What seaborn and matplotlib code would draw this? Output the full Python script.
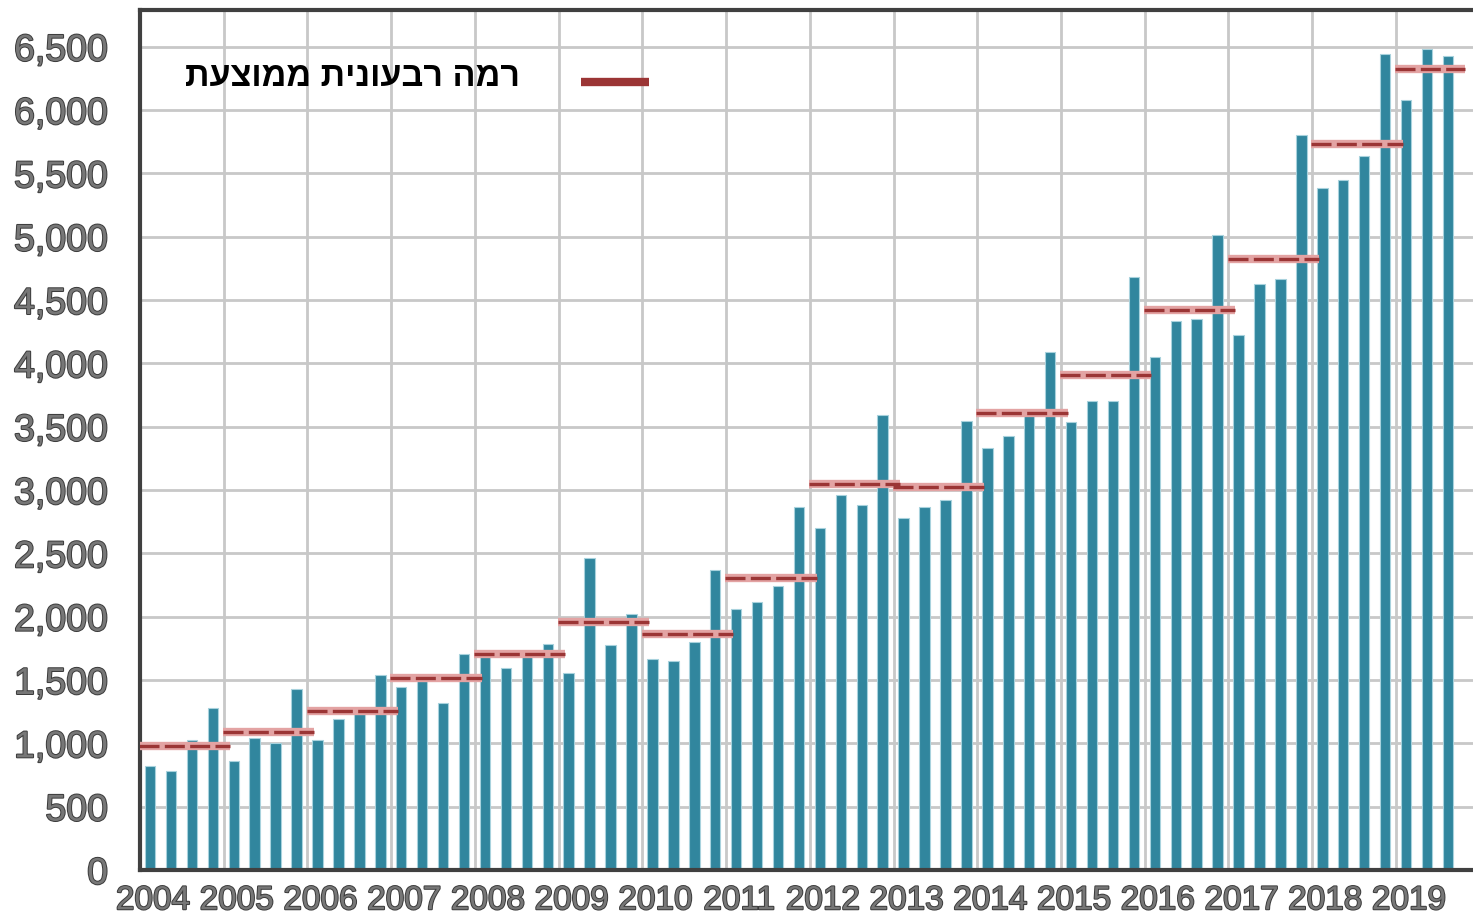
import numpy as np
import pandas as pd
import seaborn as sns
import matplotlib.pyplot as plt
import matplotlib.patheffects as pe
from matplotlib.transforms import ScaledTranslation

# quarterly values, 2004 Q1 .. 2019 Q3
years = list(range(2004, 2020))
quarterly = [
    820, 785, 1025, 1282,     # 2004
    858, 1043, 1006, 1430,    # 2005
    1024, 1190, 1232, 1540,   # 2006
    1448, 1495, 1319, 1709,   # 2007
    1690, 1595, 1720, 1782,   # 2008
    1556, 2462, 1780, 2019,   # 2009
    1669, 1651, 1798, 2369,   # 2010
    2059, 2114, 2241, 2867,   # 2011
    2701, 2959, 2885, 3595,   # 2012
    2778, 2867, 2922, 3545,   # 2013
    3329, 3423, 3593, 4090,   # 2014
    3535, 3702, 3702, 4685,   # 2015
    4050, 4333, 4348, 5015,   # 2016
    4221, 4630, 4663, 5805,   # 2017
    5388, 5450, 5636, 6445,   # 2018
    6079, 6481, 6426,         # 2019
]
# yearly average quarterly level (red lines)
yearly_avg = [982, 1090, 1258, 1514, 1703, 1959, 1864, 2306,
              3046, 3027, 3610, 3910, 4425, 4825, 5735, 6328]
legend_label = "רמה רבעונית ממוצעת"
y_ticks = list(range(0, 7000, 500))

BAR = "#31869e"
RED = "#9b3535"
PINK = "#e3a3a3"
LABEL = "#777777"

sns.set_style("whitegrid")
plt.rcParams["font.family"] = ["Liberation Sans", "DejaVu Sans"]

n = len(quarterly)
pos = [2004.12 + 0.25 * i for i in range(n)]
df = pd.DataFrame({"pos": pos, "value": quarterly})

fig = plt.figure(figsize=(14.73, 9.17), dpi=100)
ax = fig.add_axes([140 / 1473, 1 - 870 / 917, 1 - 140 / 1473, 860 / 917])

sns.barplot(data=df, x="pos", y="value", native_scale=True, orient="x",
            color=BAR, width=0.5, edgecolor="#a8d2dd", linewidth=0.8,
            saturation=1, errorbar=None, ax=ax)

# yearly average lines: from year start to just past last quarter
for yr, avg in zip(years, yearly_avg):
    last = max(p for p in pos if int(p) == yr)
    xs = [yr - 0.01, last + 0.21]
    ax.plot(xs, [avg, avg], color=PINK, lw=6, solid_capstyle="butt", zorder=3)
    ax.plot(xs, [avg, avg], color=RED, lw=2.4, dashes=(6, 1.6), zorder=4)

ax.set_xlim(2004, 2004 + (1473 - 140) / 83.73)
ax.set_ylim(0, 6790)
ax.set_xticks(years)
ax.set_xticklabels([str(y) for y in years])
ax.set_yticks(y_ticks)
ax.set_yticklabels([f"{v:,}" for v in y_ticks])
ax.set_xlabel("")
ax.set_ylabel("")

ax.set_axisbelow(True)
ax.grid(True, color="#c8c8c8", lw=2)
for side in ["left", "bottom", "top"]:
    ax.spines[side].set_color("#404040")
    ax.spines[side].set_linewidth(3)
ax.spines["right"].set_visible(False)

ax.tick_params(axis="both", which="major", length=8, width=2, color="#404040",
               direction="out")
ax.tick_params(axis="y", labelsize=27, labelcolor=LABEL, pad=15)
ax.tick_params(axis="x", labelsize=24, labelcolor=LABEL, pad=3)
stroke = [pe.withStroke(linewidth=1.4, foreground="#3a3a3a")]
for lab in ax.get_yticklabels() + ax.get_xticklabels():
    lab.set_path_effects(stroke)
for lab in ax.get_xticklabels():
    lab.set_transform(lab.get_transform() + ScaledTranslation(13 / 100, 0, fig.dpi_scale_trans))

# legend: hebrew label left of the red line (matplotlib has no bidi, so reverse)
ax.text((520 - 140) / 1333, (870 - 78) / 860, legend_label[::-1],
        transform=ax.transAxes, ha="right", va="center",
        fontsize=24.6, fontweight="bold", color="black")
ax.plot([(581 - 140) / 1333, (649 - 140) / 1333], [(870 - 82) / 860] * 2,
        transform=ax.transAxes, color=RED, lw=6, solid_capstyle="butt",
        clip_on=False, zorder=5)

fig.savefig("out.png", dpi=100)
